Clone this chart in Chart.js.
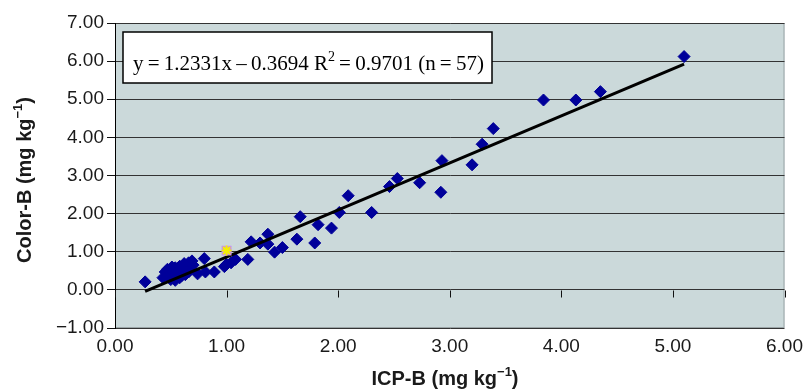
<!DOCTYPE html>
<html>
<head>
<meta charset="utf-8">
<script src="https://cdn.jsdelivr.net/npm/chart.js@4.4.1/dist/chart.umd.min.js"></script>
<style>
    html, body { margin: 0; padding: 0; background: #ffffff; }
    #chart { display: block; }
</style>
</head>
<body>
<canvas id="chart" width="810" height="390"></canvas>
<script>
// ICP-B vs Color-B (mg kg-1)
const icpB = [5.10, 4.35, 4.13, 3.84, 3.39, 3.29, 3.20, 2.93, 2.92, 2.73,
    2.53, 2.46, 2.09, 2.01, 2.30, 1.66, 1.82, 1.94, 1.63, 1.79,
    1.37, 1.30, 1.22, 1.37, 1.43, 1.50, 1.19, 1.08, 1.04, 1.00,
    0.98, 0.80, 0.89, 0.81, 0.74, 0.69, 0.66, 0.62, 0.58, 0.54,
    0.51, 0.47, 0.45, 0.43, 0.50, 0.54, 0.58, 0.63, 0.66, 0.27,
    0.48, 0.52, 0.56, 0.60, 0.70, 0.60];
const colorB = [6.12, 5.20, 4.98, 4.98, 4.23, 3.82, 3.28, 3.39, 2.56, 2.81,
    2.92, 2.71, 2.47, 2.03, 2.03, 1.92, 1.71, 1.62, 1.33, 1.23,
    1.46, 1.23, 1.26, 1.20, 0.99, 1.11, 0.80, 0.80, 0.71, 0.67,
    0.61, 0.82, 0.47, 0.47, 0.42, 0.76, 0.71, 0.69, 0.62, 0.58,
    0.60, 0.54, 0.47, 0.32, 0.27, 0.25, 0.32, 0.40, 0.47, 0.21,
    0.40, 0.45, 0.50, 0.55, 0.65, 0.38];

// odd highlighted point
const markX = [1.00];
const markY = [1.03];

// trend line ends
const trendX = [0.27, 5.10];
const trendY = [-0.04, 5.92];

const xTicks = [0, 1, 2, 3, 4, 5, 6];
const yTicks = [-1, 0, 1, 2, 3, 4, 5, 6, 7];
const equationText = 'y\u2009=\u20091.2331x\u2009\u2013\u20090.3694 R';
const equationRest = '\u2009=\u20090.9701 (n\u2009=\u200957)';
const xTitle = 'ICP-B (mg kg';
const yTitle = 'Color-B (mg kg';

const SANS = '"Liberation Sans", Arial, sans-serif';
const toPts = (xs, ys) => xs.map((x, i) => ({ x: x, y: ys[i] }));
const fmt = v => v.toFixed(2).replace('-', '\u2212');

// title with a real superscript -1, centred on 0,0
function drawUnitTitle(ctx, base) {
    const big = 'bold 20px ' + SANS;
    const small = 'bold 13px ' + SANS;
    ctx.font = big;
    const w1 = ctx.measureText(base).width;
    const w3 = ctx.measureText(')').width;
    ctx.font = small;
    const w2 = ctx.measureText('\u22121').width;
    let x = -(w1 + w2 + w3) / 2;
    ctx.textAlign = 'left';
    ctx.textBaseline = 'alphabetic';
    ctx.font = big;
    ctx.fillText(base, x, 7);
    x += w1;
    ctx.font = small;
    ctx.fillText('\u22121', x, -2);
    x += w2;
    ctx.font = big;
    ctx.fillText(')', x, 7);
}

const plotBgPlugin = {
    id: 'plotBg',
    beforeDraw(chart) {
        const { ctx, chartArea } = chart;
        ctx.save();
        ctx.fillStyle = '#cbd9da';
        ctx.fillRect(chartArea.left, chartArea.top, chartArea.right - chartArea.left, chartArea.bottom - chartArea.top);
        ctx.strokeStyle = '#9aa4a6';
        ctx.lineWidth = 1;
        ctx.strokeRect(chartArea.left + 0.5, chartArea.top + 0.5, chartArea.right - chartArea.left - 1, chartArea.bottom - chartArea.top - 1);
        ctx.restore();
    },
    afterDraw(chart) {
        const { ctx, scales } = chart;
        ctx.save();
        // x tick marks hang under the zero line
        const y0 = Math.round(scales.y.getPixelForValue(0)) + 0.5;
        ctx.strokeStyle = '#111';
        ctx.lineWidth = 1;
        ctx.beginPath();
        xTicks.forEach(v => {
            const px = Math.round(scales.x.getPixelForValue(v)) + 0.5;
            ctx.moveTo(px, y0);
            ctx.lineTo(px, y0 + 7);
        });
        ctx.stroke();

        // equation box
        const bx = 123, by = 32, bw = 369, bh = 51;
        ctx.fillStyle = '#ffffff';
        ctx.fillRect(bx, by, bw, bh);
        ctx.strokeStyle = '#000';
        ctx.lineWidth = 1.5;
        ctx.strokeRect(bx, by, bw, bh);
        ctx.fillStyle = '#000';
        ctx.textBaseline = 'alphabetic';
        ctx.textAlign = 'left';
        ctx.font = '21px "Liberation Serif", "DejaVu Serif", serif';
        let tx = bx + 10;
        const ty = by + 38;
        ctx.fillText(equationText, tx, ty);
        tx += ctx.measureText(equationText).width;
        ctx.font = '14px "Liberation Serif", "DejaVu Serif", serif';
        ctx.fillText('2', tx, ty - 9);
        tx += ctx.measureText('2').width;
        ctx.font = '21px "Liberation Serif", "DejaVu Serif", serif';
        ctx.fillText(equationRest, tx, ty);

        // axis titles
        ctx.fillStyle = '#1a1a1a';
        ctx.save();
        ctx.translate(445, 378);
        drawUnitTitle(ctx, xTitle);
        ctx.restore();
        ctx.save();
        ctx.translate(24, 180);
        ctx.rotate(-Math.PI / 2);
        drawUnitTitle(ctx, yTitle);
        ctx.restore();
        ctx.restore();
    }
};

const ctx = document.getElementById('chart').getContext('2d');
new Chart(ctx, {
    type: 'scatter',
    data: {
        datasets: [
            {
                type: 'line',
                data: toPts(trendX, trendY),
                borderColor: '#000000',
                borderWidth: 3,
                pointRadius: 0,
                fill: false,
                order: 1
            },
            {
                data: toPts(icpB, colorB),
                pointStyle: 'rectRot',
                pointRadius: 6,
                backgroundColor: '#00009a',
                borderColor: '#00009a',
                borderWidth: 1,
                order: 2
            },
            {
                data: toPts(markX, markY),
                pointStyle: 'rect',
                pointRadius: 7,
                backgroundColor: '#c78ef0',
                borderColor: '#c78ef0',
                borderWidth: 0,
                order: 0
            },
            {
                data: toPts(markX, markY),
                pointStyle: 'star',
                pointRadius: 5,
                backgroundColor: '#f5f000',
                borderColor: '#f5f000',
                borderWidth: 2,
                order: -1
            }
        ]
    },
    options: {
        responsive: false,
        animation: false,
        layout: { padding: { top: 23, right: 20, left: 0, bottom: 0 } },
        plugins: {
            legend: { display: false },
            tooltip: { enabled: false }
        },
        scales: {
            x: {
                type: 'linear',
                min: 0,
                max: 6,
                afterBuildTicks: scale => { scale.ticks = xTicks.map(v => ({ value: v })); },
                afterFit: scale => { scale.height = 62; },
                grid: { display: false, drawTicks: false },
                border: { display: false },
                ticks: {
                    callback: v => fmt(v),
                    color: '#1a1a1a',
                    font: { family: SANS, size: 19 },
                    padding: 7,
                    maxRotation: 0
                },
                title: { display: false }
            },
            y: {
                type: 'linear',
                min: -1,
                max: 7,
                afterBuildTicks: scale => { scale.ticks = yTicks.map(v => ({ value: v })); },
                afterFit: scale => { scale.width = 115; },
                grid: {
                    color: '#333333',
                    lineWidth: 1,
                    tickLength: 8,
                    tickColor: '#111'
                },
                border: { display: true, color: '#000000', width: 1 },
                ticks: {
                    callback: v => fmt(v),
                    color: '#1a1a1a',
                    font: { family: SANS, size: 19 },
                    padding: 3
                },
                title: { display: false }
            }
        }
    },
    plugins: [plotBgPlugin]
});
</script>
</body>
</html>
